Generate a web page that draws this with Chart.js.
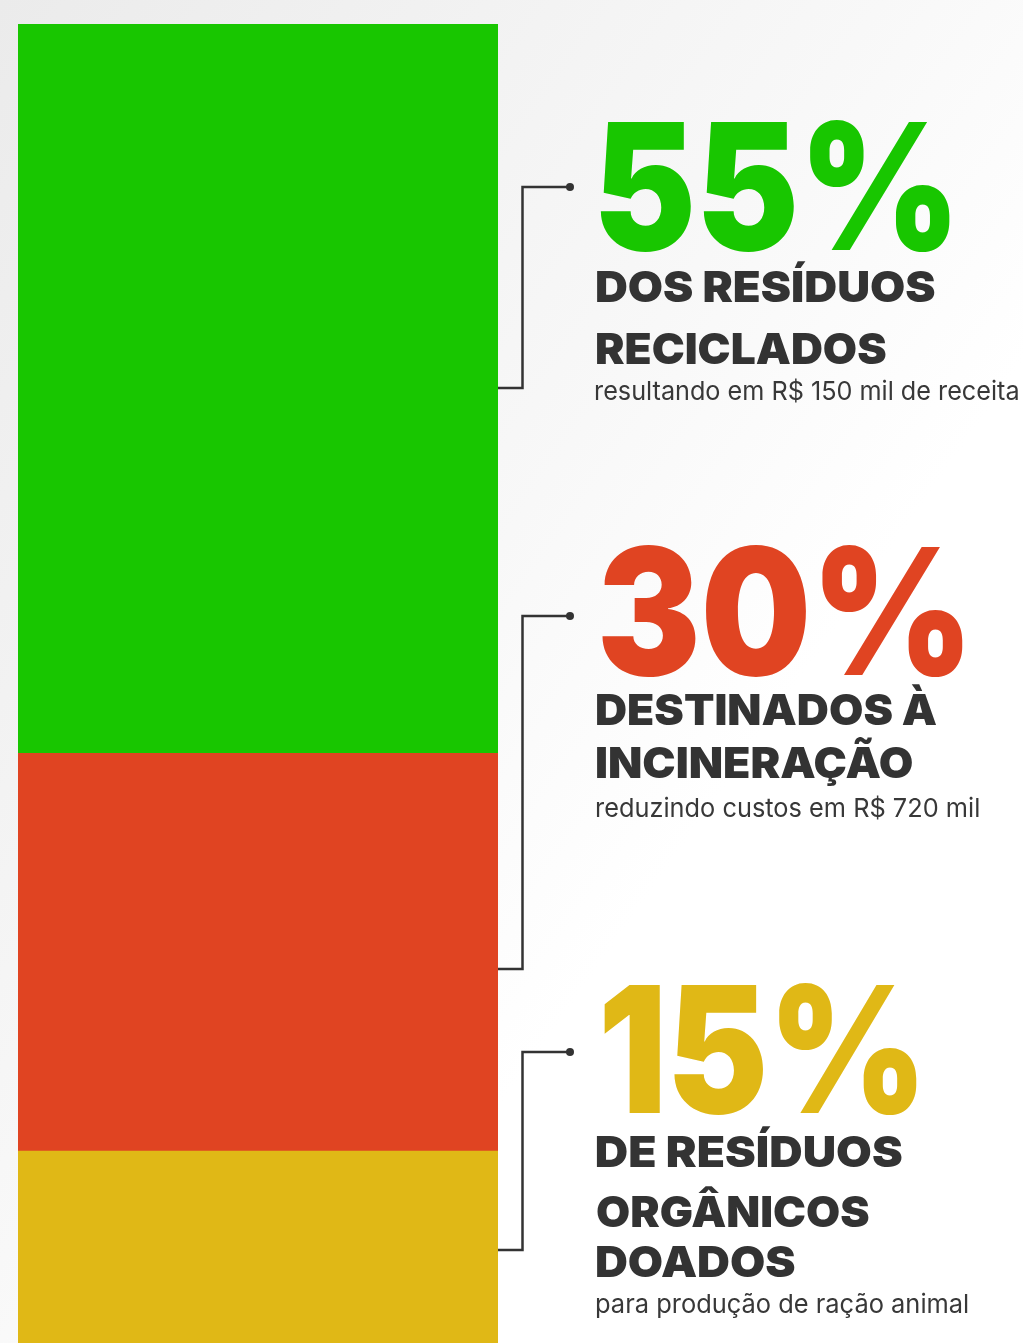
<!DOCTYPE html>
<html>
<head>
<meta charset="utf-8">
<script src="https://cdn.jsdelivr.net/npm/chart.js@4"></script>
<style>
  html, body { margin: 0; padding: 0; overflow: hidden; }
  body {
    width: 1023px; height: 1343px;
    background: linear-gradient(125deg, #ebebeb 0%, #f2f2f2 25%, #f8f8f8 45%, #ffffff 65%);
  }
  #wrap { position: relative; width: 1023px; height: 1350px; }
</style>
</head>
<body>
<div id="wrap"><canvas id="myChart"></canvas></div>
<script>
// data, bottom of the stack first
const categories = ['Resíduos'];
const labels = ['Orgânicos doados', 'Incineração', 'Reciclados'];
const values = [15, 30, 55];
const colors = ['#e0b816', '#e04422', '#18c600'];

// callout texts (top to bottom)
const bigTexts = ['55%', '30%', '15%'];
const headTexts = [['DOS RESÍDUOS', 'RECICLADOS'], ['DESTINADOS À', 'INCINERAÇÃO'], ['DE RESÍDUOS', 'ORGÂNICOS', 'DOADOS']];
const subTexts = ['resultando em R$ 150 mil de receita', 'reduzindo custos em R$ 720 mil', 'para produção de ração animal'];
const calloutColors = ['#18c600', '#e04422', '#e0b816'];

// layout of each callout: [x, right, baseline]
const layout = [
  { top: 187, bottom: 388,
    big: [600, 950, 250],
    head: [[597, 935, 302], [597, 886, 364]],
    sub: [596, 1018, 400] },
  { top: 616, bottom: 969,
    big: [602, 963, 675],
    head: [[597, 937, 725], [597, 912, 778]],
    sub: [597, 979, 817] },
  { top: 1052, bottom: 1250,
    big: [604, 917, 1113],
    head: [[597, 902, 1167], [597, 869, 1227], [597, 795, 1277]],
    sub: [597, 968, 1313] }
];

// draw text so its ink spans [x, right]
function fitText(ctx, text, font, color, box) {
  ctx.save();
  ctx.font = font;
  ctx.fillStyle = color;
  ctx.textBaseline = 'alphabetic';
  const m = ctx.measureText(text);
  const ink = m.actualBoundingBoxLeft + m.actualBoundingBoxRight;
  const sx = (box[1] - box[0]) / ink;
  ctx.translate(box[0], box[2]);
  ctx.scale(sx, 1);
  ctx.fillText(text, m.actualBoundingBoxLeft, 0);
  ctx.restore();
}

const callouts = {
  id: 'callouts',
  afterDraw(chart) {
    const ctx = chart.ctx;
    const barRight = chart.chartArea.right;
    layout.forEach((l, i) => {
      // bracket
      ctx.save();
      ctx.strokeStyle = '#333333';
      ctx.lineWidth = 2.5;
      ctx.beginPath();
      ctx.moveTo(barRight, l.bottom);
      ctx.lineTo(522.5, l.bottom);
      ctx.lineTo(522.5, l.top);
      ctx.lineTo(570, l.top);
      ctx.stroke();
      ctx.fillStyle = '#333333';
      ctx.beginPath();
      ctx.arc(570, l.top, 4, 0, Math.PI * 2);
      ctx.fill();
      ctx.restore();

      fitText(ctx, bigTexts[i], '900 176px Inter', calloutColors[i], l.big);
      headTexts[i].forEach((t, j) => {
        fitText(ctx, t, '900 43px Inter', '#333333', l.head[j]);
      });
      fitText(ctx, subTexts[i], '400 26px Inter', '#383838', l.sub);
    });
  }
};

const ctx = document.getElementById('myChart').getContext('2d');
const myChart = new Chart(ctx, {
  type: 'bar',
  data: {
    labels: categories,
    datasets: values.map((v, i) => ({
      label: labels[i],
      data: [v],
      backgroundColor: colors[i],
      borderWidth: 0,
      barPercentage: 1,
      categoryPercentage: 1
    }))
  },
  options: {
    responsive: true,
    maintainAspectRatio: false,
    animation: false,
    layout: { padding: { left: 18, right: 525, top: 24, bottom: 0 } },
    plugins: {
      legend: { display: false },
      tooltip: { enabled: false }
    },
    scales: {
      x: { stacked: true, display: false },
      y: { stacked: true, display: false, min: 0, max: 100 }
    }
  },
  plugins: [callouts]
});
</script>
</body>
</html>
